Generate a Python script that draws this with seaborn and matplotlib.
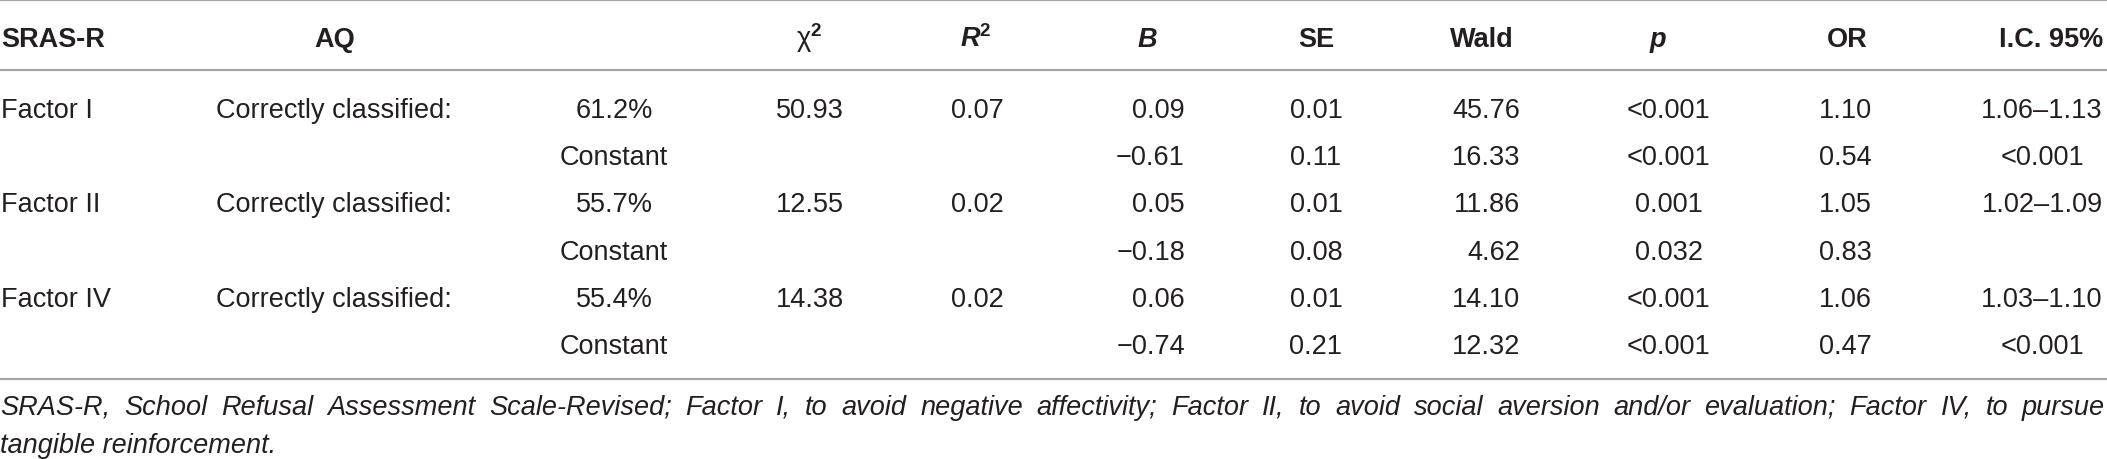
import matplotlib
matplotlib.use('Agg')
import matplotlib.pyplot as plt
import seaborn as sns

# ---------------- data ----------------
headers = ['SRAS-R', 'AQ', '', r'$\mathrm{χ}^{\mathbf{2}}$', r'$\mathbfit{R}^{\mathbf{2}}$',
           r'$\mathbfit{B}$', 'SE', 'Wald', r'$\mathbfit{p}$', 'OR', 'I.C. 95%']
factors = ['Factor I', '', 'Factor II', '', 'Factor IV', '']
aq = ['Correctly classified:', '', 'Correctly classified:', '', 'Correctly classified:', '']
classified = ['61.2%', 'Constant', '55.7%', 'Constant', '55.4%', 'Constant']
chi2 = ['50.93', '', '12.55', '', '14.38', '']
r2 = ['0.07', '', '0.02', '', '0.02', '']
b_coef = ['0.09', '\u22120.61', '0.05', '\u22120.18', '0.06', '\u22120.74']
se = ['0.01', '0.11', '0.01', '0.08', '0.01', '0.21']
wald = ['45.76', '16.33', '11.86', '4.62', '14.10', '12.32']
p_val = ['<0.001', '<0.001', '0.001', '0.032', '<0.001', '<0.001']
odds = ['1.10', '0.54', '1.05', '0.83', '1.06', '0.47']
ci95 = ['1.06\u20131.13', '<0.001', '1.02\u20131.09', '', '1.03\u20131.10', '<0.001']
note_line1 = ('SRAS-R, School Refusal Assessment Scale-Revised; Factor I, to avoid negative '
              'affectivity; Factor II, to avoid social aversion and/or evaluation; Factor IV, to pursue')
note_line2 = 'tangible reinforcement.'

columns = [factors, aq, classified, chi2, r2, b_coef, se, wald, p_val, odds, ci95]

# ---------------- layout (pixels) ----------------
W, H = 2107, 460
# (header x, header ha, data x, data ha)
col_pos = [
    (1, 'left', 1, 'left'),
    (335, 'center', 216, 'left'),
    (614, 'center', 614, 'center'),
    (809, 'center', 810, 'center'),
    (976, 'center', 977, 'center'),
    (1147, 'center', 1185, 'right'),
    (1316, 'center', 1316, 'center'),
    (1482, 'center', 1520, 'right'),
    (1658, 'center', 1669, 'center'),
    (1847, 'center', 1845, 'center'),
    (2051, 'center', 2042, 'center'),
]
header_base = 47
row_base0, row_step = 117.5, 47.4
rules = [1.2, 71, 380]
note_base1, note_base2 = 415, 453
note_right = 2105

sns.set_theme(style='white')
plt.rcParams['font.family'] = ['Liberation Sans', 'DejaVu Sans']
plt.rcParams['mathtext.fontset'] = 'custom'
plt.rcParams['mathtext.rm'] = 'Liberation Sans'
plt.rcParams['mathtext.it'] = 'Liberation Sans:italic'
plt.rcParams['mathtext.bf'] = 'Liberation Sans:bold'
plt.rcParams['mathtext.bfit'] = 'Liberation Sans:italic:bold'

txt_color = '#231f20'
rule_color = '#a6a6a6'
fs = 19.5

fig = plt.figure(figsize=(W / 100, H / 100), dpi=100)
fig.patch.set_facecolor('white')
ax = fig.add_axes([0, 0, 1, 1])
ax.set_xlim(0, W)
ax.set_ylim(H, 0)
ax.axis('off')

for y in rules:
    ax.axhline(y, color=rule_color, lw=1.6)

for (hx, hha, dx, dha), head, vals in zip(col_pos, headers, columns):
    ax.text(hx, header_base, head, ha=hha, va='baseline', fontsize=fs,
            fontweight='bold', color=txt_color)
    for i, v in enumerate(vals):
        if v:
            ax.text(dx, row_base0 + i * row_step, v, ha=dha, va='baseline',
                    fontsize=fs, color=txt_color)

# justified first footnote line
words = note_line1.split()
arts = [ax.text(0, note_base1, w, ha='left', va='baseline', fontsize=fs,
                fontstyle='italic', color=txt_color) for w in words]
fig.canvas.draw()
renderer = fig.canvas.get_renderer()
widths = [a.get_window_extent(renderer).width for a in arts]
gap = (note_right - sum(widths)) / (len(words) - 1)
x = 0
for a, w in zip(arts, widths):
    a.set_x(x)
    x += w + gap
ax.text(0, note_base2, note_line2, ha='left', va='baseline', fontsize=fs,
        fontstyle='italic', color=txt_color)

fig.savefig('out.png', dpi=100, facecolor='white')
